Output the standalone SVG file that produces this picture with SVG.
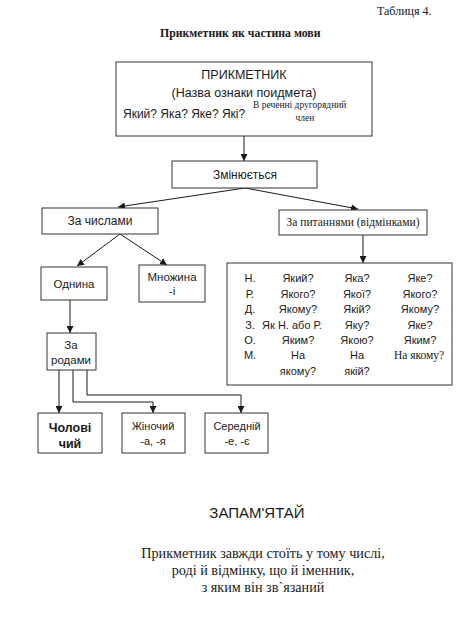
<svg xmlns="http://www.w3.org/2000/svg" width="460" height="622" viewBox="0 0 460 622">
<defs>
<marker id="ah" viewBox="0 0 10 10" refX="10" refY="5" markerWidth="7" markerHeight="7" orient="auto" markerUnits="userSpaceOnUse">
<path d="M0,0 L10,5 L0,10 z" fill="#1a1a1a"/>
</marker>
<style>
.box{fill:#fff;stroke:#333;stroke-width:1}
.s{font-family:"Liberation Sans",Arial,sans-serif;fill:#1a1a1a}
.r{font-family:"Liberation Serif","Times New Roman",serif;fill:#1a1a1a}
.c{stroke:#1a1a1a;stroke-width:1;fill:none}
.m{text-anchor:middle}
</style>
</defs>
<rect width="460" height="622" fill="#fff"/>
<text class="r" x="377" y="15" font-size="12">Таблиця 4.</text>
<text class="r" x="160" y="37" font-size="11.8" font-weight="bold">Прикметник як частина мови</text>

<g id="connectors">
<line class="c" x1="244" y1="136" x2="244" y2="161" marker-end="url(#ah)"/>
<line class="c" x1="245" y1="188" x2="118" y2="207" marker-end="url(#ah)"/>
<line class="c" x1="245" y1="188" x2="358" y2="209" marker-end="url(#ah)"/>
<line class="c" x1="120" y1="234" x2="77" y2="266" marker-end="url(#ah)"/>
<line class="c" x1="120" y1="234" x2="167" y2="265" marker-end="url(#ah)"/>
<line class="c" x1="363" y1="235" x2="363" y2="263" marker-end="url(#ah)"/>
<line class="c" x1="70" y1="300" x2="70" y2="333" marker-end="url(#ah)"/>
<line class="c" x1="59" y1="370" x2="59" y2="413" marker-end="url(#ah)"/>
<polyline class="c" points="73,370 73,402 153,402 153,413" marker-end="url(#ah)"/>
<polyline class="c" points="87,370 87,395 241,395 241,413" marker-end="url(#ah)"/>
</g>

<g id="prykmetnyk">
<rect class="box" x="116" y="62" width="256" height="74"/>
<text class="s m" x="244" y="79" font-size="12.5">ПРИКМЕТНИК</text>
<text class="s m" x="244" y="97" font-size="12.5">(Назва ознаки поидмета)</text>
<text class="s" x="123" y="118" font-size="12">Який? Яка? Яке? Які?</text>
<text class="r" x="253" y="108" font-size="9.5">В реченні другорядний</text>
<text class="r m" x="305" y="121" font-size="9.5">член</text>
</g>

<g id="zminyuietsia">
<rect class="box" x="172" y="161" width="145" height="27"/>
<text class="s m" x="245" y="179" font-size="12">Змінюється</text>
</g>

<g id="za-chyslamy">
<rect class="box" x="42" y="208" width="116" height="26"/>
<text class="s m" x="100" y="225" font-size="12">За числами</text>
</g>

<g id="za-pytanniamy">
<rect class="box" x="279" y="210" width="148" height="25"/>
<text class="r m" x="353" y="226" font-size="11.5">За питаннями (відмінками)</text>
</g>

<g id="odnyna">
<rect class="box" x="41" y="267" width="66" height="33"/>
<text class="s m" x="74" y="288" font-size="11.5">Однина</text>
</g>

<g id="mnozhyna">
<rect class="box" x="139" y="265" width="66" height="37"/>
<text class="s m" x="172" y="281" font-size="11.5">Множина</text>
<text class="s m" x="172" y="295" font-size="11.5">-і</text>
</g>

<g id="za-rodamy">
<rect class="box" x="47" y="333" width="49" height="37"/>
<text class="s m" x="71" y="349" font-size="11.5">За</text>
<text class="s m" x="71" y="364" font-size="11.5">родами</text>
</g>

<g id="cholovichyi">
<rect class="box" x="38" y="413" width="64" height="40"/>
<text class="s m" x="70" y="432" font-size="12.5" font-weight="bold">Чолові</text>
<text class="s m" x="70" y="448" font-size="12.5" font-weight="bold">чий</text>
</g>

<g id="zhinochyi">
<rect class="box" x="122" y="413" width="63" height="40"/>
<text class="s m" x="153" y="430" font-size="11">Жіночий</text>
<text class="s m" x="153" y="445" font-size="11">-а, -я</text>
</g>

<g id="serednii">
<rect class="box" x="205" y="413" width="63" height="40"/>
<text class="s m" x="237" y="430" font-size="11">Середній</text>
<text class="s m" x="237" y="445" font-size="11">-е, -є</text>
</g>

<g id="vidminky">
<rect class="box" x="227" y="263" width="225" height="122"/>
<g class="s m" font-size="11">
<text x="250" y="282">Н.</text><text x="298" y="282">Який?</text><text x="357" y="282">Яка?</text><text x="420" y="282">Яке?</text>
<text x="250" y="298">Р.</text><text x="298" y="298">Якого?</text><text x="357" y="298">Якої?</text><text x="420" y="298">Якого?</text>
<text x="250" y="313">Д.</text><text x="298" y="313">Якому?</text><text x="357" y="313">Якій?</text><text x="420" y="313">Якому?</text>
<text x="250" y="329">З.</text><text x="292" y="329">Як Н. або Р.</text><text x="357" y="329">Яку?</text><text x="420" y="329">Яке?</text>
<text x="250" y="344">О.</text><text x="298" y="344">Яким?</text><text x="357" y="344">Якою?</text><text x="420" y="344">Яким?</text>
<text x="250" y="359">М.</text><text x="298" y="359">На</text><text x="357" y="359">На</text>
<text x="298" y="375">якому?</text><text x="357" y="375">якій?</text>
</g>
<text class="r m" x="419" y="359" font-size="11.5">На якому?</text>
</g>

<text class="s m" x="257" y="518" font-size="15">ЗАПАМ'ЯТАЙ</text>
<g class="r m" font-size="14.2">
<text x="263" y="558">Прикметник завжди стоїть у тому числі,</text>
<text x="263" y="575">роді й відмінку, що й іменник,</text>
<text x="263" y="592">з яким він зв`язаний</text>
</g>
</svg>
